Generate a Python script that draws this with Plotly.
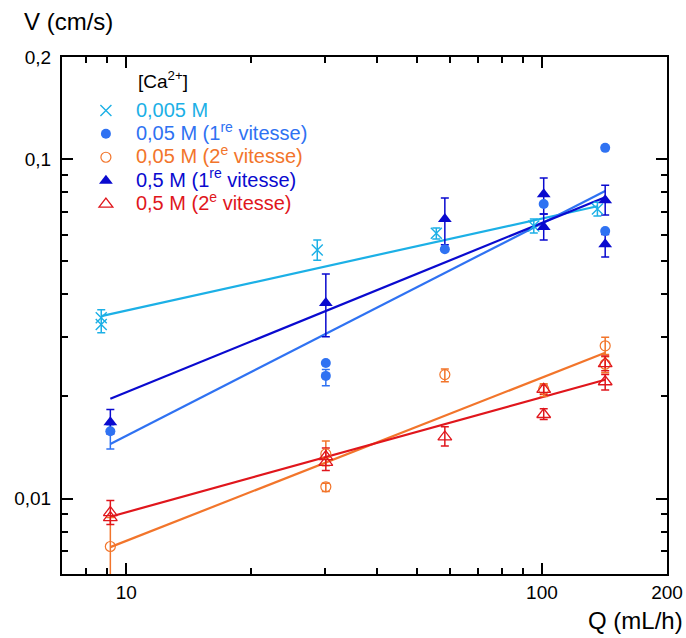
import math
import plotly.graph_objects as go

# ---------------- data ----------------
# 0,005 M
c005_q = [8.7, 8.7, 28.8, 55.7, 95.6, 136]
c005_v = [0.0341, 0.0326, 0.0540, 0.0605, 0.0636, 0.0713]
c005_hi = [0.0360, None, 0.0578, 0.0627, 0.0666, 0.0747]
c005_lo = [0.0308, None, 0.0504, 0.0582, 0.0606, 0.0680]

# 0,05 M (1re vitesse)
c05a_q = [9.15, 30.2, 30.2, 58.4, 101, 142, 142]
c05a_v = [0.0158, 0.0251, 0.0230, 0.0543, 0.0738, 0.108, 0.0614]
c05a_hi = [0.0165, None, 0.0240, None, None, None, None]
c05a_lo = [0.0140, None, 0.0215, None, None, None, None]

# 0,05 M (2e vitesse)
c05b_q = [9.15, 30.2, 30.2, 58.4, 101, 142, 142]
c05b_v = [0.00723, 0.01355, 0.01084, 0.0232, 0.0210, 0.0282, 0.0249]
c05b_hi = [0.0088, 0.0148, 0.0111, 0.0241, 0.0218, 0.0299, 0.0262]
c05b_lo = [0.0040, 0.0125, 0.0105, 0.0221, 0.0200, 0.0266, 0.0235]

# 0,5 M (1re vitesse)
c5a_q = [9.15, 30.2, 58.4, 101, 101, 142, 142]
c5a_v = [0.0168, 0.0377, 0.0666, 0.0789, 0.0631, 0.0757, 0.0562]
c5a_hi = [0.0183, 0.0459, 0.0768, 0.0880, 0.0689, 0.0838, 0.0600]
c5a_lo = [0.0155, 0.0300, 0.0560, 0.0689, 0.0578, 0.0685, 0.0515]

# 0,5 M (2e vitesse)
c5b_q = [9.15, 9.15, 30.2, 30.2, 58.4, 101, 101, 142, 142]
c5b_v = [0.0091, 0.0088, 0.0133, 0.0128, 0.0152, 0.0210, 0.0177, 0.0250, 0.0221]
c5b_hi = [0.00987, None, 0.0141, None, 0.0163, 0.0216, 0.0184, 0.0263, 0.0232]
c5b_lo = [0.0084, None, 0.0121, None, 0.0143, 0.0203, 0.0171, 0.0238, 0.0209]

# power-law fit lines (end points)
fit005_q = [8.7, 136]
fit005_v = [0.0345, 0.0727]
fit05a_q = [9.15, 142]
fit05a_v = [0.0145, 0.0806]
fit05b_q = [9.15, 142]
fit05b_v = [0.0072, 0.0269]
fit5a_q = [9.15, 142]
fit5a_v = [0.0197, 0.0773]
fit5b_q = [9.15, 142]
fit5b_v = [0.00885, 0.0224]

x_tickvals = [10, 100, 200]
x_ticktext = ["10", "100", "200"]
y_tickvals = [0.01, 0.1, 0.2]
y_ticktext = ["0,01", "0,1", "0,2"]
x_minor = [8, 9, 20, 30, 40, 50, 60, 70, 80, 90]
y_minor = [0.007, 0.008, 0.009, 0.02, 0.03, 0.04, 0.05, 0.06, 0.07, 0.08, 0.09]

labels = [
    "0,005 M",
    "0,05 M (1<sup>re</sup> vitesse)",
    "0,05 M (2<sup>e</sup> vitesse)",
    "0,5 M (1<sup>re</sup> vitesse)",
    "0,5 M (2<sup>e</sup> vitesse)",
]
colors = ["#1CB0E6", "#2F72F2", "#F2752B", "#0A0ACF", "#E0161C"]

FONT = "Arial, Liberation Sans, sans-serif"

series = [
    (c005_q, c005_v, c005_hi, c005_lo, fit005_q, fit005_v,
     dict(symbol="x-thin-open", size=11, line=dict(width=1.4))),
    (c05a_q, c05a_v, c05a_hi, c05a_lo, fit05a_q, fit05a_v,
     dict(symbol="circle", size=10, line=dict(width=0))),
    (c05b_q, c05b_v, c05b_hi, c05b_lo, fit05b_q, fit05b_v,
     dict(symbol="circle-open", size=10, line=dict(width=1.2))),
    (c5a_q, c5a_v, c5a_hi, c5a_lo, fit5a_q, fit5a_v,
     dict(symbol="triangle-up", size=12, line=dict(width=0))),
    (c5b_q, c5b_v, c5b_hi, c5b_lo, fit5b_q, fit5b_v,
     dict(symbol="triangle-up-open", size=12, line=dict(width=1.3))),
]

fig = go.Figure()

# fit lines
for (q, v, hi, lo, fq, fv, mk), col in zip(series, colors):
    fig.add_trace(go.Scatter(x=fq, y=fv, mode="lines",
                             line=dict(color=col, width=2.2),
                             showlegend=False, hoverinfo="skip"))

# error bars (only points that have them)
for (q, v, hi, lo, fq, fv, mk), col in zip(series, colors):
    eq, ev, ep, em = [], [], [], []
    for qi, vi, h, l in zip(q, v, hi, lo):
        if h is None:
            continue
        eq.append(qi)
        ev.append(vi)
        ep.append(h - vi)
        em.append(vi - l)
    fig.add_trace(go.Scatter(
        x=eq, y=ev, mode="markers",
        marker=dict(size=2, opacity=0, color=col),
        error_y=dict(type="data", symmetric=False, array=ep, arrayminus=em,
                     color=col, thickness=1.5, width=4),
        showlegend=False, hoverinfo="skip"))

# markers
for (q, v, hi, lo, fq, fv, mk), col, lab in zip(series, colors, labels):
    m = dict(mk)
    m["color"] = col
    m["line"] = dict(m["line"], color=col)
    fig.add_trace(go.Scatter(
        x=q, y=v, mode="markers", marker=m,
        name='<span style="font-size:20px;color:%s">%s</span>' % (col, lab)))

axis_common = dict(
    type="log", showline=True, linecolor="black", linewidth=2,
    mirror="ticks", ticks="inside", ticklen=11, tickwidth=2, tickcolor="black",
    showgrid=False, zeroline=False,
    tickfont=dict(family=FONT, size=19, color="black"),
)

fig.update_xaxes(
    range=[math.log10(7), math.log10(200)],
    tickmode="array", tickvals=x_tickvals, ticktext=x_ticktext,
    minor=dict(tickmode="array", tickvals=x_minor, ticks="inside",
               ticklen=6, tickwidth=2, tickcolor="black", showgrid=False),
    **axis_common)
fig.update_yaxes(
    range=[math.log10(0.006), math.log10(0.2)],
    tickmode="array", tickvals=y_tickvals, ticktext=y_ticktext,
    ticklabelstandoff=5,
    minor=dict(tickmode="array", tickvals=y_minor, ticks="inside",
               ticklen=6, tickwidth=2, tickcolor="black", showgrid=False),
    **axis_common)

fig.update_layout(
    width=686, height=638,
    margin=dict(l=62, r=19, t=57, b=64, autoexpand=False),
    paper_bgcolor="white", plot_bgcolor="white",
    font=dict(family=FONT, color="black"),
    legend=dict(x=0.023, y=0.929, xanchor="left", yanchor="top",
                bgcolor="rgba(0,0,0,0)", itemwidth=50,
                font=dict(family=FONT, size=15.7)),
    annotations=[
        dict(text="[Ca<sup>2+</sup>]", xref="paper", yref="paper",
             x=(136 - 62) / 605, y=1 - (80 - 57) / 517, xanchor="left",
             yanchor="middle", showarrow=False,
             font=dict(family=FONT, size=19, color="black")),
        dict(text="V (cm/s)", xref="paper", yref="paper",
             x=(22 - 62) / 605, y=1 + (57 - 22) / 517, xanchor="left",
             yanchor="middle", showarrow=False,
             font=dict(family=FONT, size=24, color="black")),
        dict(text="Q (mL/h)", xref="paper", yref="paper",
             x=(685 - 62) / 605, y=-(620 - 574) / 517, xanchor="right",
             yanchor="middle", showarrow=False,
             font=dict(family=FONT, size=24, color="black")),
    ],
)

fig.write_html(
    "out.html",
    config={"displayModeBar": False},
    post_script="document.body.style.margin='0';"
                "document.body.style.overflow='hidden';",
)
